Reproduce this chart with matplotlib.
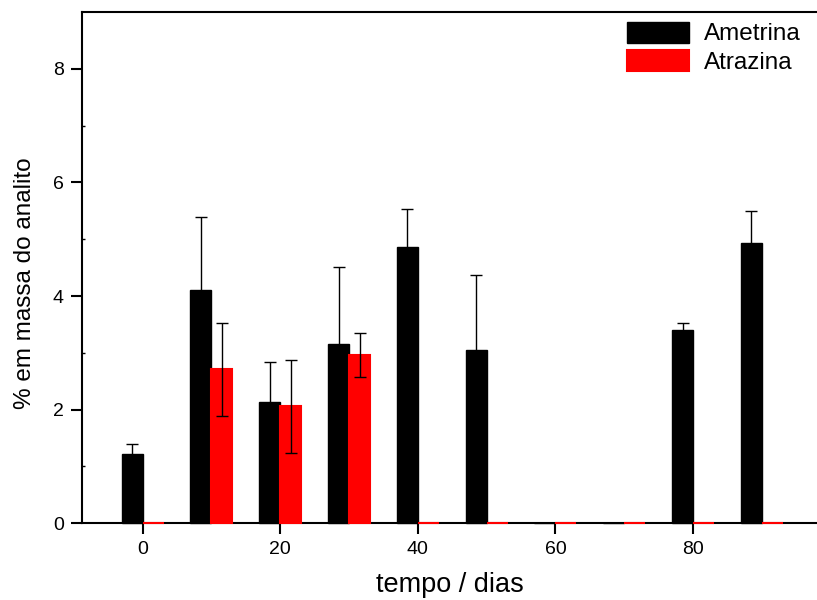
import numpy as np
import matplotlib
matplotlib.use("Agg")
import matplotlib.pyplot as plt

# sampling days and mass fraction (%) of each analyte
days = [0, 10, 20, 30, 40, 50, 60, 70, 80, 90]
ametrina = [1.22, 4.11, 2.13, 3.15, 4.87, 3.05, 0, 0, 3.41, 4.93]
ametrina_err = [0.18, 1.28, 0.71, 1.37, 0.66, 1.32, 0, 0, 0.11, 0.56]
atrazina = [0, 2.71, 2.06, 2.96, 0, 0, 0, 0, 0, 0]
atrazina_err = [0, 0.82, 0.82, 0.39, 0, 0, 0, 0, 0, 0]

plt.rcParams['font.family'] = ['Liberation Sans', 'DejaVu Sans']

fig = plt.figure(figsize=(8.17, 6.0), dpi=100)
ax = fig.add_axes([82 / 817, 76.7 / 600, 1 - 82 / 817, 511.3 / 600])

x = np.array(days, dtype=float)
width = 3.05
ax.bar(x - width / 2, ametrina, width, color='black', edgecolor='black',
       linewidth=1.0, label='Ametrina', zorder=3, clip_on=False)
ax.bar(x + width / 2, atrazina, width, color='red', edgecolor='red',
       linewidth=1.5, label='Atrazina', zorder=3, clip_on=False)

# error bars only where there is a measurable spread
am = np.array(ametrina_err) > 0
at = np.array(atrazina_err) > 0
ax.errorbar((x - width / 2)[am], np.array(ametrina)[am], yerr=np.array(ametrina_err)[am],
            fmt='none', ecolor='black', elinewidth=1.0, capsize=4.5, capthick=1.0, zorder=4)
ax.errorbar((x + width / 2)[at], np.array(atrazina)[at], yerr=np.array(atrazina_err)[at],
            fmt='none', ecolor='black', elinewidth=1.0, capsize=4.5, capthick=1.0, zorder=4)

ax.set_xlim(-8.8, 98.0)
ax.set_ylim(0, 9)
ax.set_xticks([0, 20, 40, 60, 80])
ax.set_yticks([0, 2, 4, 6, 8])
ax.tick_params(axis='both', direction='out', length=8, width=1.5, labelsize=14, pad=5)
ax.set_yticks([1, 3, 5, 7], minor=True)
ax.tick_params(axis='y', which='minor', direction='in', length=2, width=1)

for side in ['left', 'bottom', 'top']:
    ax.spines[side].set_linewidth(1.5)
ax.spines['right'].set_visible(False)

ax.set_xlabel('tempo / dias', fontsize=19.5, labelpad=10)
ax.set_ylabel('% em massa do analito', fontsize=17.5)
ax.yaxis.set_label_coords(-0.063, 0.47)

ax.legend(loc='upper right', bbox_to_anchor=(0.994, 1.005), frameon=False, fontsize=17.5,
          handlelength=2.55, handleheight=0.95, handletextpad=0.6, labelspacing=0.2,
          borderaxespad=0.1)

fig.savefig('out.png', dpi=100)
